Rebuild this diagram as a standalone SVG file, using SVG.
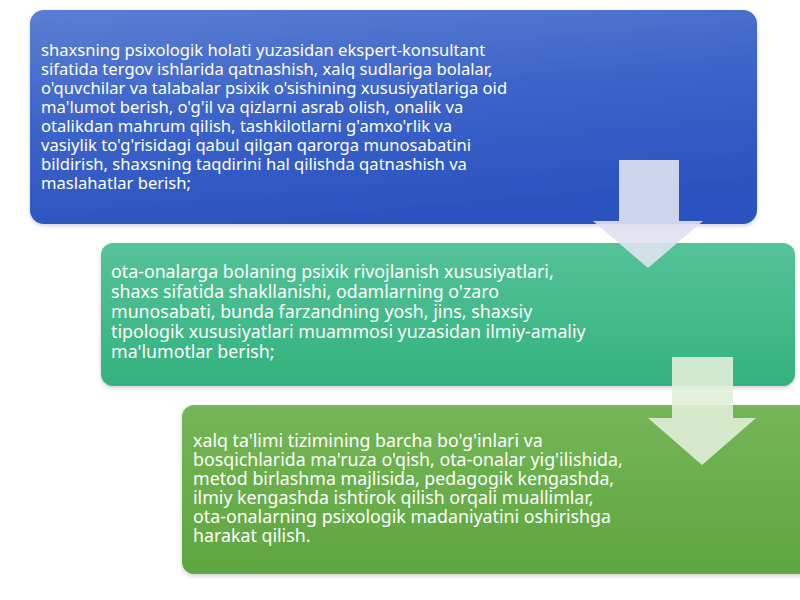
<svg xmlns="http://www.w3.org/2000/svg" width="800" height="600" viewBox="0 0 800 600">
<defs>
<linearGradient id="gBlue" x1="0" y1="0" x2="0.3" y2="1">
<stop offset="0" stop-color="#5b7fd3"/>
<stop offset="0.5" stop-color="#3c64c9"/>
<stop offset="1" stop-color="#2c53c0"/>
</linearGradient>
<linearGradient id="gTeal" x1="0" y1="0" x2="0" y2="1">
<stop offset="0" stop-color="#55c298"/>
<stop offset="1" stop-color="#33b27e"/>
</linearGradient>
<linearGradient id="gGreen" x1="0" y1="0" x2="0" y2="1">
<stop offset="0" stop-color="#75b657"/>
<stop offset="1" stop-color="#5ea63f"/>
</linearGradient>
<filter id="sh" x="-5%" y="-5%" width="110%" height="115%">
<feDropShadow dx="0" dy="2" stdDeviation="2" flood-color="#000" flood-opacity="0.18"/>
</filter>
</defs>
<style>
.t{font-family:"Noto Sans","Open Sans","DejaVu Sans",sans-serif;font-size:17.8px;fill:#ffffff;}
.t1{font-size:16.6px;}
.arr1{fill:#dfe2f0;fill-opacity:0.9;}
.arr2{fill:#e2eed8;fill-opacity:0.9;}
</style>
<rect width="800" height="600" fill="#ffffff"/>
<g id="node1">
<rect x="30" y="10" width="727" height="214" rx="14" fill="url(#gBlue)" filter="url(#sh)"/>
<text class="t t1"><tspan x="41" y="56">shaxsning psixologik holati yuzasidan ekspert-konsultant</tspan><tspan x="41" y="75">sifatida tergov ishlarida qatnashish, xalq sudlariga bolalar,</tspan><tspan x="41" y="94">o'quvchilar va talabalar psixik o'sishining xususiyatlariga oid</tspan><tspan x="41" y="113">ma'lumot berish, o'g'il va qizlarni asrab olish, onalik va</tspan><tspan x="41" y="132">otalikdan mahrum qilish, tashkilotlarni g'amxo'rlik va</tspan><tspan x="41" y="151">vasiylik to'g'risidagi qabul qilgan qarorga munosabatini</tspan><tspan x="41" y="170">bildirish, shaxsning taqdirini hal qilishda qatnashish va</tspan><tspan x="41" y="189">maslahatlar berish;</tspan></text>
</g>
<g id="node2">
<rect x="101" y="243" width="694" height="143" rx="12" fill="url(#gTeal)" filter="url(#sh)"/>
<text class="t"><tspan x="111" y="278">ota-onalarga bolaning psixik rivojlanish xususiyatlari,</tspan><tspan x="111" y="298">shaxs sifatida shakllanishi, odamlarning o'zaro</tspan><tspan x="111" y="318">munosabati, bunda farzandning yosh, jins, shaxsiy</tspan><tspan x="111" y="338">tipologik xususiyatlari muammosi yuzasidan ilmiy-amaliy</tspan><tspan x="111" y="358">ma'lumotlar berish;</tspan></text>
</g>
<g id="node3">
<rect x="182" y="405" width="630" height="169" rx="12" fill="url(#gGreen)" filter="url(#sh)"/>
<text class="t"><tspan x="193" y="447">xalq ta'limi tizimining barcha bo'g'inlari va</tspan><tspan x="193" y="466">bosqichlarida ma'ruza o'qish, ota-onalar yig'ilishida,</tspan><tspan x="193" y="485">metod birlashma majlisida, pedagogik kengashda,</tspan><tspan x="193" y="504">ilmiy kengashda ishtirok qilish orqali muallimlar,</tspan><tspan x="193" y="523">ota-onalarning psixologik madaniyatini oshirishga</tspan><tspan x="193" y="542">harakat qilish.</tspan></text>
</g>
<g id="connectors">
<polygon class="arr1" points="619,160 679,160 679,221 703,221 648,268 593,221 619,221"/>
<polygon class="arr2" points="672,357 733,357 733,418 756,418 702,465 648,418 672,418"/>
</g>
</svg>
